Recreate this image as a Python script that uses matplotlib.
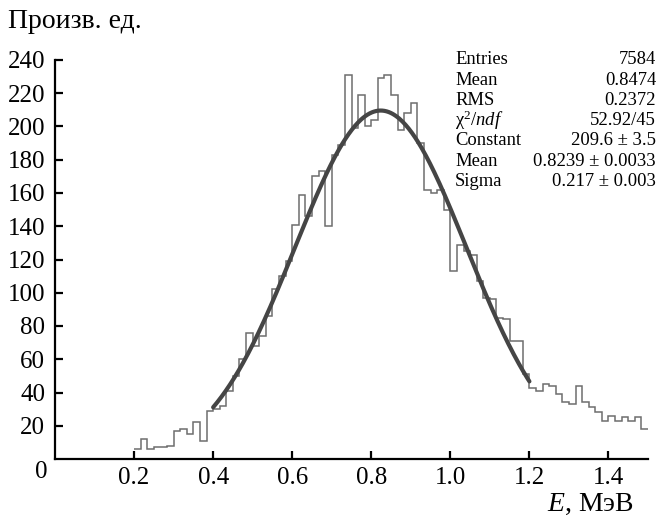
import numpy as np
import matplotlib
matplotlib.use("Agg")
import matplotlib.pyplot as plt

plt.rcParams['font.family'] = ['Liberation Serif', 'DejaVu Serif']
plt.rcParams['mathtext.fontset'] = 'custom'
plt.rcParams['mathtext.rm'] = 'Liberation Serif'
plt.rcParams['mathtext.it'] = 'Liberation Serif:italic'

# histogram: 90 bins over 0..1.5, non-empty from 0.2
bin_lo = 0.0
bin_hi = 1.5
n_bins = 90
counts_from_020 = [
    6, 12, 6, 7, 7, 8, 17, 18, 15, 22, 11, 29,          # 0.200 - 0.400
    30, 32, 41, 50, 60, 76, 68, 74, 86, 102, 110, 119,   # 0.400 - 0.600
    141, 159, 146, 170, 173, 140, 183, 189,              # 0.600 - 0.733
    231, 199, 219, 200, 204, 229, 231, 219,              # 0.733 - 0.867
    198, 208, 214, 190, 162, 160, 162, 150,              # 0.867 - 1.000
    113, 129, 125, 123, 107, 97, 96, 85,                 # 1.000 - 1.133
    84, 71, 71, 51, 43, 41, 45, 44,                      # 1.133 - 1.267
    39, 34, 33, 44, 34, 31, 28, 23,                      # 1.267 - 1.400
    26, 23, 25, 23, 25, 18,                              # 1.400 - 1.500
]
first_bin = 12

# Gaussian fit parameters shown in stats box
fit_const = 209.6
fit_mean = 0.8239
fit_sigma = 0.217
fit_range = (0.4, 1.2)

stat_labels = ["Entries", "Mean", "RMS", "χ$^{2}$/$ndf$", "Constant", "Mean", "Sigma"]
stat_values = ["7584", "0.8474", "0.2372", "52.92/45", "209.6 ± 3.5",
               "0.8239 ± 0.0033", "0.217 ± 0.003"]

x_ticks = [0.2, 0.4, 0.6, 0.8, 1.0, 1.2, 1.4]
x_tick_labels = ["0.2", "0.4", "0.6", "0.8", "1.0", "1.2", "1.4"]
y_ticks = [20, 40, 60, 80, 100, 120, 140, 160, 180, 200, 220, 240]

W, H = 659, 517
fig = plt.figure(figsize=(W / 100, H / 100), dpi=100)
ax = fig.add_axes([55 / W, (H - 459) / H, (648 - 55) / W, (459 - 60) / H])

edges = np.linspace(bin_lo, bin_hi, n_bins + 1)
counts = np.zeros(n_bins)
counts[first_bin:first_bin + len(counts_from_020)] = counts_from_020
ax.stairs(counts[first_bin:], edges[first_bin:], color='#6e6e6e', linewidth=1.1,
          baseline=None)

xf = np.linspace(fit_range[0], fit_range[1], 300)
yf = fit_const * np.exp(-0.5 * ((xf - fit_mean) / fit_sigma) ** 2)
ax.plot(xf, yf, color='#454545', linewidth=3.0, solid_capstyle='round')

ax.set_xlim(0, 1.5)
ax.set_ylim(0, 240)
ax.spines['top'].set_visible(False)
ax.spines['right'].set_visible(False)
for s in ('left', 'bottom'):
    ax.spines[s].set_linewidth(1.6)
ax.set_xticks(x_ticks)
ax.set_xticklabels(x_tick_labels)
ax.set_yticks(y_ticks)
ax.tick_params(direction='in', length=6, width=1.6, labelsize=18)
ax.tick_params(axis='x', pad=6)
ax.tick_params(axis='y', pad=7)

# origin label
fig.text(41 / W, 1 - 472 / H, "0", fontsize=18, ha='center', va='center')

# axis titles
fig.text(8 / W, 1 - 21 / H, "Произв. ед.", fontsize=20, ha='left', va='center')
fig.text(634 / W, 1 - 504 / H, "$E$, МэВ", fontsize=20, ha='right', va='center')

# stats box
row_y0 = 60
row_dy = 20.2
for i, (lab, val) in enumerate(zip(stat_labels, stat_values)):
    yy = 1 - (row_y0 + i * row_dy) / H
    fig.text(455 / W, yy, lab, fontsize=13.4, ha='left', va='center')
    fig.text(656 / W, yy, val, fontsize=13.4, ha='right', va='center')

fig.savefig("out.png", dpi=100)
